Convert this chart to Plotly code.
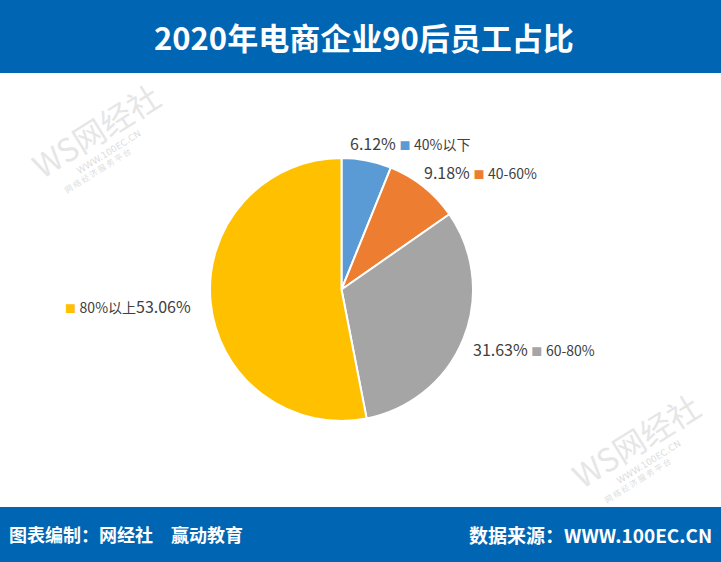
import plotly.graph_objects as go

title = "2020年电商企业90后员工占比"
categories = ["40%以下", "40-60%", "60-80%", "80%以上"]
values = [6.12, 9.18, 31.63, 53.06]
colors = ["#5B9BD5", "#ED7D31", "#A5A5A5", "#FFC000"]
footer_left = "图表编制：网经社\u3000赢动教育"
footer_right = "数据来源：WWW.100EC.CN"

W, H = 721, 562
FONT = "Noto Sans CJK SC"
BLUE = "#0066B3"
TXT = "#404040"

fig = go.Figure()
fig.add_trace(go.Pie(
    labels=categories, values=values, sort=False, direction="clockwise",
    rotation=0, marker=dict(colors=colors, line=dict(color="white", width=2)),
    textinfo="none", hoverinfo="label+value", showlegend=False,
    domain=dict(x=[210 / W, 473 / W], y=[1 - 421 / H, 1 - 158 / H]),
))

def px(x):
    return x / W

def py(y):
    return 1 - y / H

def label(cat, val, col, pct_first=True):
    pct = f"<span style='font-size:16px'>{val:.2f}%</span>"
    sq = f"<span style='color:{col};font-size:11px'>■</span>"
    c = f"<span style='font-size:14px'>{cat}</span>"
    return f"{pct} {sq} {c}" if pct_first else f"{sq} {c}{pct}"

label_pos = [(348, 143), (422, 172), (471, 349), (63, 306)]
annotations = []
for i, (cat, val, col) in enumerate(zip(categories, values, colors)):
    x, y = label_pos[i]
    annotations.append(dict(
        x=px(x), y=py(y), xref="paper", yref="paper", xanchor="left", yanchor="middle",
        text=label(cat, val, col, pct_first=(i < 3)), showarrow=False,
        font=dict(family=FONT, size=16, color=TXT),
    ))

# title and footer
annotations.append(dict(x=px(364), y=py(37), xref="paper", yref="paper", xanchor="center", yanchor="middle",
                        text=f"<b>{title}</b>", showarrow=False,
                        font=dict(family=FONT, size=31, color="white")))
annotations.append(dict(x=px(7), y=py(534), xref="paper", yref="paper", xanchor="left", yanchor="middle",
                        text=f"<b>{footer_left}</b>", showarrow=False,
                        font=dict(family=FONT, size=18, color="white")))
annotations.append(dict(x=px(714), y=py(534), xref="paper", yref="paper", xanchor="right", yanchor="middle",
                        text=f"<b>{footer_right}</b>", showarrow=False,
                        font=dict(family=FONT, size=19, color="white")))

# watermarks
for (wx, wy) in [(95, 130), (635, 440)]:
    annotations.append(dict(x=px(wx), y=py(wy), xref="paper", yref="paper", xanchor="center", yanchor="middle",
                            text="WS网经社", textangle=-32, showarrow=False,
                            font=dict(family=FONT, size=32, color="rgba(205,205,205,0.5)")))
    annotations.append(dict(x=px(wx + 14), y=py(wy + 22), xref="paper", yref="paper", xanchor="center", yanchor="middle",
                            text="WWW.100EC.CN", textangle=-32, showarrow=False,
                            font=dict(family="DejaVu Sans", size=9, color="rgba(190,190,190,0.55)")))
    annotations.append(dict(x=px(wx + 2), y=py(wy + 40), xref="paper", yref="paper", xanchor="center", yanchor="middle",
                            text="网 络 经 济 服 务 平 台", textangle=-32, showarrow=False,
                            font=dict(family=FONT, size=8, color="rgba(190,190,190,0.55)")))

fig.update_layout(
    width=W, height=H, margin=dict(l=0, r=0, t=0, b=0),
    paper_bgcolor="white", plot_bgcolor="white",
    shapes=[
        dict(type="rect", xref="paper", yref="paper", x0=0, x1=1, y0=py(73), y1=1,
             fillcolor=BLUE, line=dict(width=0), layer="below"),
        dict(type="rect", xref="paper", yref="paper", x0=0, x1=1, y0=0, y1=py(507),
             fillcolor=BLUE, line=dict(width=0), layer="below"),
    ],
    annotations=annotations,
)

fig.write_html("out.html")
